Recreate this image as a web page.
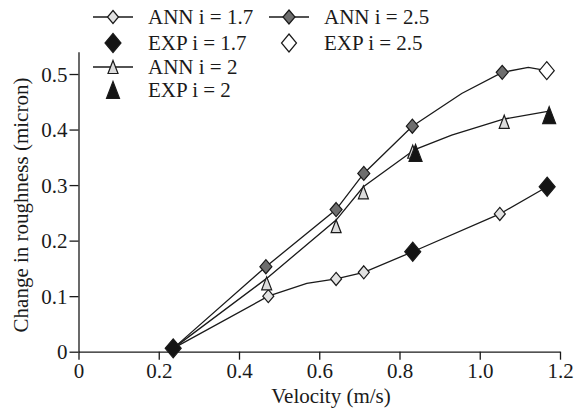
<!DOCTYPE html>
<html>
<head>
<meta charset="utf-8">
<script src="https://cdn.jsdelivr.net/npm/d3@7"></script>
<style>
  body { margin: 0; background: #fff; }
  svg { display: block; }
  svg text { font-family: "Liberation Serif", serif; }
</style>
</head>
<body>
<div id="chart"></div>
<script>
// ticks
var xTicks = [0, 0.2, 0.4, 0.6, 0.8, 1.0, 1.2]
var xTickLabels = ["0", "0.2", "0.4", "0.6", "0.8", "1.0", "1.2"]
var yTicks = [0, 0.1, 0.2, 0.3, 0.4, 0.5]
var yTickLabels = ["0", "0.1", "0.2", "0.3", "0.4", "0.5"]

// ANN curves (line points)
var ann17X = [0.236, 0.473, 0.569, 0.642, 0.711, 0.833, 1.05, 1.168]
var ann17Y = [0.006, 0.1, 0.123, 0.131, 0.143, 0.18, 0.248, 0.297]
var ann2X = [0.236, 0.469, 0.642, 0.71, 0.838, 0.93, 1.061, 1.173]
var ann2Y = [0.006, 0.132, 0.237, 0.297, 0.364, 0.39, 0.419, 0.433]
var ann25X = [0.236, 0.467, 0.642, 0.711, 0.832, 0.955, 1.056, 1.121, 1.167]
var ann25Y = [0.006, 0.153, 0.256, 0.321, 0.406, 0.465, 0.503, 0.512, 0.506]

// ANN markers
var ann17MX = [0.473, 0.642, 0.711, 0.833, 1.05, 1.168]
var ann17MY = [0.1, 0.131, 0.143, 0.18, 0.248, 0.297]
var ann2MX = [0.469, 0.642, 0.71, 0.833, 1.061]
var ann2MY = [0.123, 0.226, 0.287, 0.36, 0.414]
var ann25MX = [0.467, 0.642, 0.711, 0.832, 1.056]
var ann25MY = [0.153, 0.256, 0.321, 0.406, 0.503]

// experimental points
var exp17X = [0.236, 0.833, 1.168]
var exp17Y = [0.006, 0.18, 0.297]
var exp2X = [0.84, 1.173]
var exp2Y = [0.358, 0.426]
var exp25X = [1.167]
var exp25Y = [0.506]

var width = 581,
  height = 411

var serif = "Liberation Serif, serif"

var svg = d3
  .select("#chart")
  .append("svg")
  .attr("width", width)
  .attr("height", height)
  .attr("font-family", serif)

var x = d3
  .scaleLinear()
  .domain([0, 1.2])
  .range([78.5, 560])

var y = d3
  .scaleLinear()
  .domain([0, 0.54])
  .range([351.7, 51.8])

var ink = "#1a1a1a"

function diamond(w, h) {
  return "M0," + -h / 2 + "L" + w / 2 + ",0L0," + h / 2 + "L" + -w / 2 + ",0Z"
}
function triangle(w, h) {
  return "M0," + -h / 2 + "L" + w / 2 + "," + h / 2 + "L" + -w / 2 + "," + h / 2 + "Z"
}

var shapes = {
  annDiamond: { d: diamond(11, 13), fill: "#e2e2e2" },
  darkDiamond: { d: diamond(12, 14), fill: "#6e6e6e" },
  blackDiamond: { d: diamond(16, 19), fill: "#141414" },
  whiteDiamond: { d: diamond(15, 18), fill: "#fff" },
  annTriangle: { d: triangle(10, 13), fill: "#dcdcdc" },
  blackTriangle: { d: triangle(13, 17), fill: "#141414" }
}

function zip(xs, ys) {
  return xs.map(function(v, i) {
    return [v, ys[i]]
  })
}

/* ------- AXES -------*/
var xAxis = d3
  .axisBottom(x)
  .tickValues(xTicks)
  .tickSize(8)
  .tickSizeOuter(0)
  .tickPadding(3)
  .tickFormat(function(d, i) {
    return xTickLabels[i]
  })

var yAxis = d3
  .axisLeft(y)
  .tickValues(yTicks)
  .tickSize(9)
  .tickSizeOuter(0)
  .tickPadding(2)
  .tickFormat(function(d, i) {
    return yTickLabels[i]
  })

var gx = svg
  .append("g")
  .attr("transform", "translate(0," + y(0) + ")")
  .call(xAxis)
  .attr("font-family", serif)
  .attr("font-size", 21)

var gy = svg
  .append("g")
  .attr("transform", "translate(" + x(0) + ",0)")
  .call(yAxis)
  .attr("font-family", serif)
  .attr("font-size", 21)

svg.selectAll(".domain, .tick line").attr("stroke", ink).attr("stroke-width", 1.3)
svg.selectAll(".tick text").attr("fill", ink)
gy.selectAll(".tick text").attr("dy", "0.34em")

svg
  .append("text")
  .attr("x", 331)
  .attr("y", 403)
  .attr("text-anchor", "middle")
  .attr("fill", ink)
  .attr("font-size", 21)
  .text("Velocity (m/s)")

svg
  .append("text")
  .attr("transform", "translate(28,205) rotate(-90)")
  .attr("text-anchor", "middle")
  .attr("fill", ink)
  .attr("font-size", 21)
  .text("Change in roughness (micron)")

/* ------- LINES -------*/
var line = d3
  .line()
  .x(function(d) {
    return x(d[0])
  })
  .y(function(d) {
    return y(d[1])
  })

var curves = [zip(ann17X, ann17Y), zip(ann2X, ann2Y), zip(ann25X, ann25Y)]

svg
  .append("g")
  .selectAll("path")
  .data(curves)
  .enter()
  .append("path")
  .attr("d", line)
  .attr("fill", "none")
  .attr("stroke", ink)
  .attr("stroke-width", 1.3)

/* ------- MARKERS -------*/
var markerSets = [
  { pts: zip(ann17MX, ann17MY), shape: "annDiamond" },
  { pts: zip(ann2MX, ann2MY), shape: "annTriangle" },
  { pts: zip(ann25MX, ann25MY), shape: "darkDiamond" },
  { pts: zip(exp2X, exp2Y), shape: "blackTriangle" },
  { pts: zip(exp25X, exp25Y), shape: "whiteDiamond" },
  { pts: zip(exp17X, exp17Y), shape: "blackDiamond" }
]

markerSets.forEach(function(set) {
  var s = shapes[set.shape]
  svg
    .append("g")
    .selectAll("path")
    .data(set.pts)
    .enter()
    .append("path")
    .attr("transform", function(d) {
      return "translate(" + x(d[0]) + "," + y(d[1]) + ")"
    })
    .attr("d", s.d)
    .attr("fill", s.fill)
    .attr("stroke", ink)
    .attr("stroke-width", 1.2)
})

/* ------- LEGEND -------*/
var legendNames = ["ANN i = 1.7", "EXP i = 1.7", "ANN i = 2", "EXP i = 2", "ANN i = 2.5", "EXP i = 2.5"]
var legendShapes = ["annDiamond", "blackDiamond", "annTriangle", "blackTriangle", "darkDiamond", "whiteDiamond"]
var legendHasLine = [true, false, true, false, true, false]
var legendCol = [0, 0, 0, 0, 1, 1]
var legendRow = [0, 1, 2, 3, 0, 1]

var colX = [113, 289]
var rowY = [17, 43, 67, 90]

var legend = svg
  .append("g")
  .selectAll("g")
  .data(legendNames)
  .enter()
  .append("g")
  .attr("transform", function(d, i) {
    return "translate(" + colX[legendCol[i]] + "," + rowY[legendRow[i]] + ")"
  })

legend
  .filter(function(d, i) {
    return legendHasLine[i]
  })
  .append("line")
  .attr("x1", -20)
  .attr("x2", 20)
  .attr("stroke", ink)
  .attr("stroke-width", 1.3)

legend
  .append("path")
  .attr("d", function(d, i) {
    return shapes[legendShapes[i]].d
  })
  .attr("fill", function(d, i) {
    return shapes[legendShapes[i]].fill
  })
  .attr("stroke", ink)
  .attr("stroke-width", 1.2)

legend
  .append("text")
  .attr("x", 35)
  .attr("dy", "0.35em")
  .attr("fill", ink)
  .attr("font-size", 21)
  .text(function(d) {
    return d
  })
</script>
</body>
</html>
